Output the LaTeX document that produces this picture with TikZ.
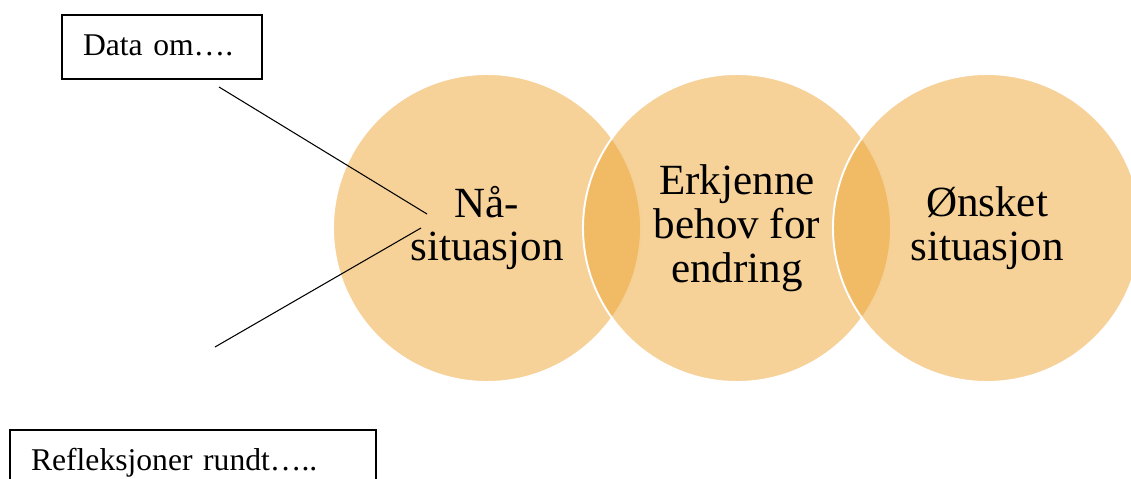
\documentclass[tikz,border=0pt]{standalone}
\usepackage{fontspec}
\setmainfont{Liberation Serif}
\usepackage{tikz}

\definecolor{vennfill}{RGB}{237,163,49}

\tikzset{
  venn/.style={circle, draw=white, line width=1.1pt, fill=vennfill,
               fill opacity=0.5, text opacity=1, inner sep=0cm,
               minimum size=6.16cm, align=center,
               font=\fontsize{24.5}{25}\selectfont},
  infobox/.style={draw, line width=0.8pt, inner xsep=0.42cm, inner ysep=0cm,
                  minimum height=1.28cm, align=left, text height=0.45cm,
                  text depth=0.12cm, font=\fontsize{18}{20}\selectfont},
  pointer/.style={line width=0.6pt}
}

\begin{document}
\begin{tikzpicture}

\clip (0,0) rectangle (22.62,9.58);

\draw (9.74, 5.02) node[venn] (now) {Nå-\\situasjon};
\draw (14.74, 5.02) node[venn] (need) {Erkjenne\\behov for\\endring};
\draw (19.74, 5.02) node[venn] (goal) {Ønsket\\situasjon};

\draw (3.24, 8.64) node[infobox, text width=3.16cm] (data) {Data om….};
\draw (3.86, 0.34) node[infobox, text width=6.48cm] (reflect) {Refleksjoner rundt…..};

\coordinate (dataend) at (4.38, 7.84);
\coordinate (datetip) at (8.54, 5.30);
\coordinate (reflend) at (4.30, 2.64);
\coordinate (refltip) at (8.42, 5.02);

\draw[pointer] (dataend) -- (datetip);
\draw[pointer] (reflend) -- (refltip);
\end{tikzpicture}
\end{document}
